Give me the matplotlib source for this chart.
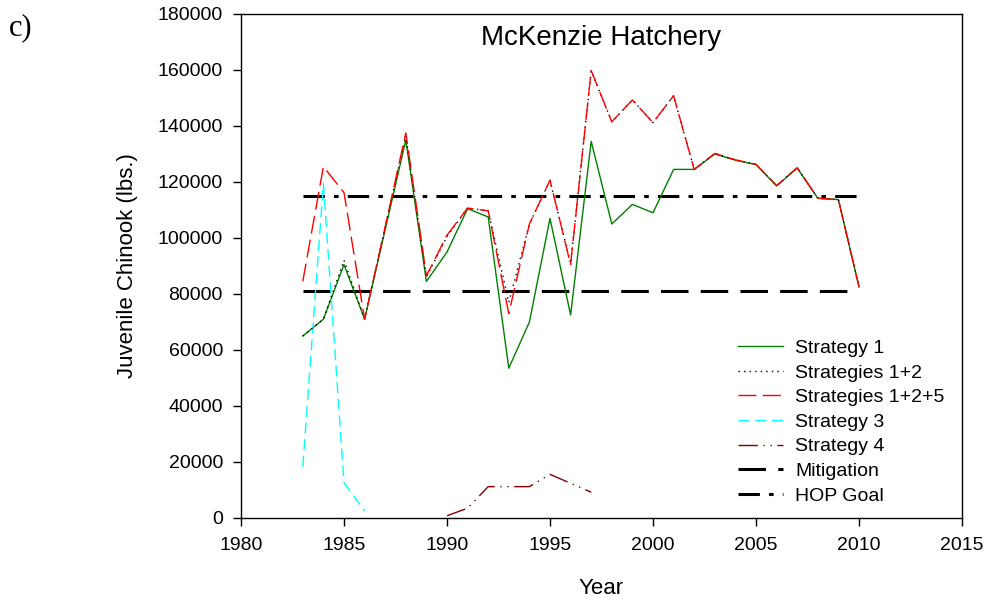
import matplotlib
matplotlib.use("Agg")
import matplotlib.pyplot as plt

plt.rcParams['font.family'] = ['Liberation Sans', 'DejaVu Sans']

years = list(range(1983, 2011))
strategy1 = [65000, 71000, 90500, 71000, 103000, 135000, 84500, 95000, 110500, 107500,
             53500, 70000, 107000, 72500, 134500, 105000, 112000, 109000, 124500, 124500,
             130000, 127800, 126200, 118600, 125000, 114200, 113700, 82500]
strategies12 = [65000, 71000, 92000, 71000, 104000, 136500, 86000, 100500, 110700, 109700,
                77000, 105000, 120500, 91000, 159700, 141500, 149300, 141200, 150800, 124500,
                130200, 127900, 126300, 118700, 125100, 114200, 113700, 82600]
strategies125 = [84500, 125500, 116200, 71000, 104000, 137500, 86500, 101000, 110700, 109700,
                 73000, 105000, 120700, 90500, 159800, 141500, 149300, 141200, 150800, 124500,
                 130200, 127900, 126300, 118700, 125100, 114200, 113700, 82600]
years3 = [1983, 1984, 1985, 1986]
strategy3 = [18300, 119500, 12600, 2500]
years4 = [1990, 1991, 1992, 1993, 1994, 1995, 1996, 1997]
strategy4 = [800, 3500, 11200, 11200, 11200, 15600, 12400, 9200]
ref_years = [1983, 2010]
mitigation = [81000, 81000]
hop_goal = [115000, 115000]

fig = plt.figure(figsize=(9.87, 6.0), dpi=100)
ax = fig.add_axes([241/987, 1-518/600, (962-241)/987, (518-14)/600])

ax.plot(years, strategy1, color='#008000', lw=1.0, label='Strategy 1', zorder=3)
ax.plot(years, strategies12, color='black', lw=1.0, linestyle=(0, (1, 3)), label='Strategies 1+2', zorder=4)
ax.plot(years, strategies125, color='#ff0000', lw=1.0, linestyle=(0, (13, 4.5)), label='Strategies 1+2+5', zorder=5)
ax.plot(years3, strategy3, color='#00ffff', lw=1.0, linestyle=(0, (8, 4)), label='Strategy 3', zorder=3)
ax.plot(years4, strategy4, color='#800000', lw=1.0, linestyle=(0, (14, 4, 1, 4, 1, 4)), label='Strategy 4', zorder=3)
ax.plot(ref_years, mitigation, color='black', lw=2.2, linestyle=(0, (9, 4)), label='Mitigation', zorder=2)
ax.plot(ref_years, hop_goal, color='black', lw=2.2, linestyle=(0, (7, 3, 1.5, 3)), label='HOP Goal', zorder=2)

ax.set_xlim(1980, 2015)
ax.set_ylim(0, 180000)
ax.set_xticks(range(1980, 2016, 5))
ax.set_yticks(range(0, 180001, 20000))
ax.tick_params(direction='out', length=6, width=1, labelsize=14)
ax.tick_params(axis='x', pad=8)
ax.tick_params(axis='y', pad=7)
for s in ax.spines.values():
    s.set_linewidth(1.0)

ax.set_xlabel('Year', fontsize=16)
ax.xaxis.set_label_coords(0.5, (518-588)/504, transform=ax.transAxes)
ax.set_ylabel('Juvenile Chinook (lbs.)', fontsize=16)
ax.yaxis.set_label_coords((128-241)/721, 0.5, transform=ax.transAxes)
ax.xaxis.label.set_va('center')
ax.yaxis.label.set_va('center')
ax.text(0.5, (518-38)/504, 'McKenzie Hatchery', transform=ax.transAxes, ha='center', va='center', fontsize=20)

leg = fig.legend(*ax.get_legend_handles_labels(), loc='center left', frameon=False, fontsize=14,
                 handlelength=2.3, handletextpad=0.65, labelspacing=0.36, borderpad=0,
                 borderaxespad=0, bbox_to_anchor=(738/987, 1-422/600))

fig.text(9/987, 1-28/600, 'c)', fontsize=22, family=['Liberation Serif', 'DejaVu Serif'], va='center', ha='left')

fig.savefig('out.png', dpi=100)
